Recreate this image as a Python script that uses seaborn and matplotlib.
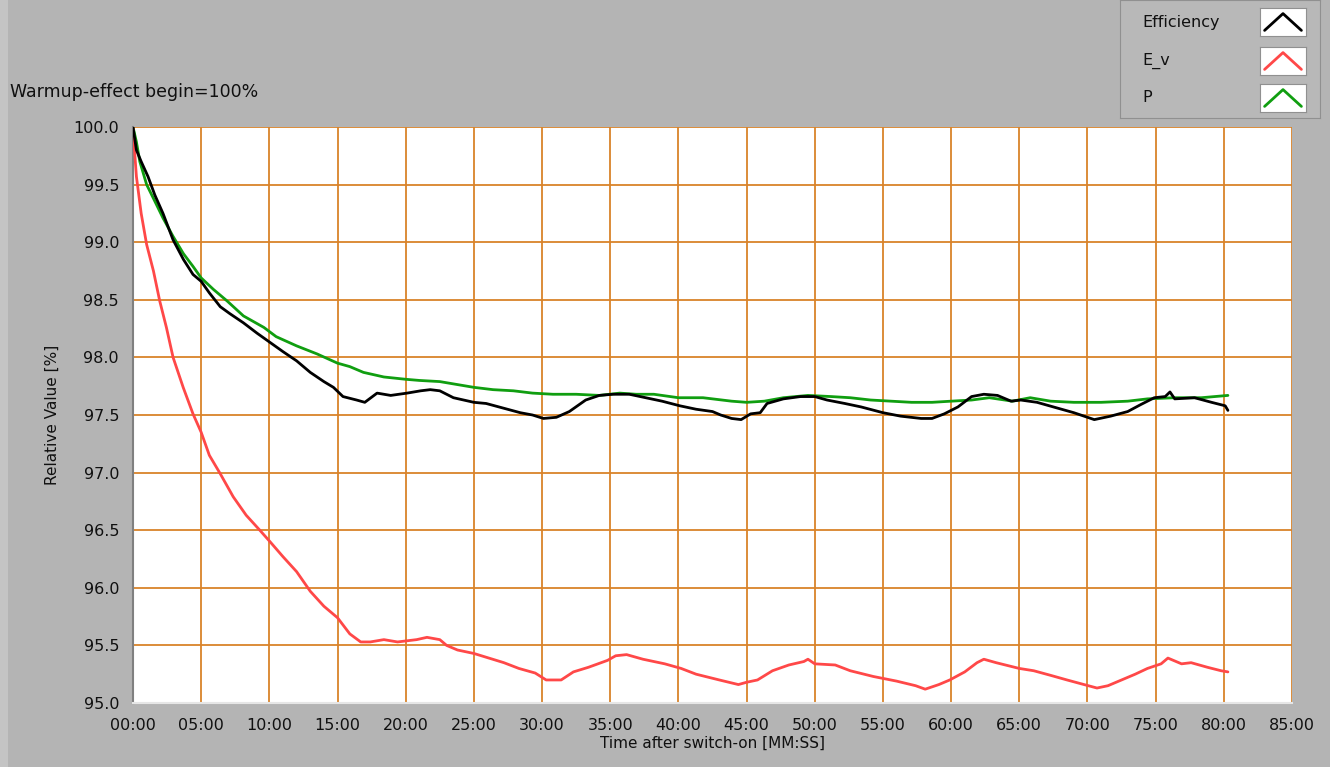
import pandas as pd
import matplotlib.pyplot as plt
import seaborn as sns

# Values (time in minutes, relative value in %)
eff_t = [0, 0.25, 0.6, 1.1, 1.6, 2.2, 2.94, 3.7, 4.4, 5.0, 5.6, 6.4, 7.1, 8.1, 9.1, 10.05,
         11.0, 12.0, 13.0, 14.0, 14.7, 15.4, 16.4, 17.0, 17.9, 18.9, 20.1, 21.1, 21.8, 22.5,
         23.5, 25.0, 25.9, 27.15, 28.4, 29.3, 30.1, 31.05, 32.0, 33.2, 34.2, 35.2, 36.4,
         37.6, 38.8, 40.1, 41.3, 42.5, 43.1, 43.9, 44.6, 45.3, 46.0, 46.5, 47.7, 48.95,
         50.0, 50.9, 52.2, 53.4, 55.0, 56.3, 57.8, 58.6, 59.5, 60.5, 61.5, 62.4, 63.4,
         64.4, 65.1, 66.3, 67.5, 69.0, 70.5, 71.7, 72.95, 73.9, 74.9, 75.7, 76.05, 76.4,
         77.85, 79.1, 80.1, 80.3]
eff_v = [100.0, 99.8, 99.7, 99.57, 99.41, 99.25, 99.02, 98.85, 98.72, 98.66, 98.56, 98.44,
         98.38, 98.3, 98.21, 98.13, 98.05, 97.97, 97.87, 97.79, 97.74, 97.66, 97.63, 97.61,
         97.69, 97.67, 97.69, 97.71, 97.72, 97.71, 97.65, 97.61, 97.6, 97.56, 97.52, 97.5,
         97.47, 97.48, 97.53, 97.63, 97.67, 97.68, 97.68, 97.65, 97.62, 97.58, 97.55, 97.53,
         97.5, 97.47, 97.46, 97.51, 97.52, 97.6, 97.64, 97.66, 97.66, 97.63, 97.6, 97.57,
         97.52, 97.49, 97.47, 97.47, 97.51, 97.57, 97.66, 97.68, 97.67, 97.62, 97.63, 97.61,
         97.57, 97.52, 97.46, 97.49, 97.53, 97.59, 97.65, 97.66, 97.7, 97.64, 97.65, 97.61,
         97.58, 97.54]

ev_t = [0, 0.05, 0.25, 0.6, 1.0, 1.5, 1.96, 2.45, 2.94, 3.68, 4.4, 5.0, 5.6, 6.4, 7.35, 8.3,
        9.3, 10.05, 11.0, 12.0, 13.0, 14.0, 15.0, 15.9, 16.7, 17.4, 18.4, 19.4, 20.8, 21.56,
        22.5, 23.0, 23.8, 25.0, 26.1, 27.2, 28.3, 29.5, 30.3, 31.4, 32.3, 33.4, 34.8, 35.4,
        36.2, 37.4, 39.0, 40.2, 41.3, 43.0, 44.4, 45.0, 45.8, 46.9, 48.1, 49.2, 49.5, 50.0,
        51.5, 52.6, 54.3, 56.0, 57.4, 58.1, 59.1, 59.9, 61.0, 61.9, 62.4, 63.3, 65.0, 66.06,
        67.3, 68.5, 69.75, 70.7, 71.5, 72.5, 73.5, 74.4, 75.4, 75.9, 76.9, 77.6, 78.8, 79.8,
        80.3]
ev_v = [100.0, 99.9, 99.57, 99.25, 98.98, 98.75, 98.49, 98.26, 98.0, 97.74, 97.51, 97.35,
        97.15, 96.99, 96.79, 96.63, 96.5, 96.4, 96.27, 96.14, 95.97, 95.84, 95.74, 95.6,
        95.53, 95.53, 95.55, 95.53, 95.55, 95.57, 95.55, 95.5, 95.46, 95.43, 95.39, 95.35,
        95.3, 95.26, 95.2, 95.2, 95.27, 95.31, 95.37, 95.41, 95.42, 95.38, 95.34, 95.3, 95.25,
        95.2, 95.16, 95.18, 95.2, 95.28, 95.33, 95.36, 95.38, 95.34, 95.33, 95.28, 95.23,
        95.19, 95.15, 95.12, 95.16, 95.2, 95.27, 95.35, 95.38, 95.35, 95.3, 95.28, 95.24,
        95.2, 95.16, 95.13, 95.15, 95.2, 95.25, 95.3, 95.34, 95.39, 95.34, 95.35, 95.31,
        95.28, 95.27]

p_t = [0, 0.25, 0.5, 1.0, 1.5, 2.2, 2.94, 3.7, 4.4, 5.0, 5.9, 6.9, 8.1, 9.6, 10.5, 12.0,
       13.5, 15.0, 15.9, 16.9, 18.4, 20.0, 21.0, 22.5, 23.5, 25.0, 26.4, 27.9, 29.3, 30.8,
       32.5, 34.2, 35.7, 36.9, 38.2, 40.0, 41.8, 43.9, 45.0, 46.3, 47.7, 49.5, 51.2, 52.6,
       54.1, 55.6, 57.1, 58.6, 60.0, 61.5, 62.8, 64.5, 65.8, 67.3, 69.0, 71.0, 72.95, 74.4,
       76.4, 78.35, 80.3]
p_v = [100.0, 99.87, 99.7, 99.5, 99.38, 99.21, 99.05, 98.9, 98.79, 98.69, 98.59, 98.49,
       98.36, 98.26, 98.18, 98.1, 98.03, 97.95, 97.92, 97.87, 97.83, 97.81, 97.8, 97.79,
       97.77, 97.74, 97.72, 97.71, 97.69, 97.68, 97.68, 97.67, 97.69, 97.68, 97.68, 97.65,
       97.65, 97.62, 97.61, 97.62, 97.65, 97.67, 97.66, 97.65, 97.63, 97.62, 97.61, 97.61,
       97.62, 97.63, 97.65, 97.62, 97.65, 97.62, 97.61, 97.61, 97.62, 97.64, 97.65, 97.65,
       97.67]

series_names = ["Efficiency", "E_v", "P"]
series_colors = ["#000000", "#ff4848", "#109e10"]
x_ticks = list(range(0, 90, 5))
x_labels = [f"{m:02d}:00" for m in x_ticks]
y_ticks = [95.0 + 0.5 * i for i in range(11)]

df = pd.concat([
    pd.DataFrame({"t": eff_t, "v": eff_v, "s": "Efficiency"}),
    pd.DataFrame({"t": ev_t, "v": ev_v, "s": "E_v"}),
    pd.DataFrame({"t": p_t, "v": p_v, "s": "P"}),
])

sns.set_style("white")
plt.rcParams['font.family'] = ['DejaVu Sans']

panel = "#b4b4b4"
grid = "#d9832a"
fig = plt.figure(figsize=(13.3, 7.67), dpi=100, facecolor=panel)

# slightly lighter strip on the far left edge, like the window frame
fig.patches.append(plt.Rectangle((0, 0), 8 / 1330, 1, transform=fig.transFigure,
                                 facecolor="#c4c4c4", edgecolor="none", zorder=0))

ax = fig.add_axes([133 / 1330, 1 - 703 / 767, (1292 - 133) / 1330, (703 - 127) / 767])
ax.set_facecolor("white")

# draw green first so black sits on top like the reference
for name in ["P", "E_v", "Efficiency"]:
    sub = df[df["s"] == name]
    sns.lineplot(data=sub, x="t", y="v", color=series_colors[series_names.index(name)],
                 lw=2, ax=ax, sort=False, estimator=None, zorder=3)

ax.set_xlim(0, 85)
ax.set_ylim(95, 100)
ax.set_xticks(x_ticks)
ax.set_xticklabels(x_labels)
ax.set_yticks(y_ticks)
ax.set_yticklabels([f"{v:.1f}" for v in y_ticks])
ax.grid(True, color=grid, lw=1.3, zorder=1)
ax.set_axisbelow(True)
for s in ax.spines.values():
    s.set_visible(False)
ax.spines["left"].set_visible(True)
ax.spines["left"].set_color("#808080")
ax.spines["left"].set_linewidth(1.5)
ax.spines["bottom"].set_visible(True)
ax.spines["bottom"].set_color("#e6e6e6")
ax.spines["bottom"].set_linewidth(1.5)
ax.tick_params(axis="both", which="both", direction="out", length=7, width=1.3,
               color="#202020", labelsize=11.5, labelcolor="#101010", pad=3)
ax.tick_params(axis="x", pad=4)
ax.set_xlabel("Time after switch-on [MM:SS]", fontsize=11, color="#101010", labelpad=2)
ax.set_ylabel("Relative Value [%]", fontsize=11, color="#101010", labelpad=10)

fig.text(10 / 1330, 1 - 92 / 767, "Warmup-effect begin=100%", fontsize=12.5,
         color="#101010", va="center", ha="left")

# legend box, top right
leg = fig.add_axes([1120 / 1330, 1 - 118 / 767, 200 / 1330, 118 / 767])
leg.set_xlim(0, 1)
leg.set_ylim(0, 1)
leg.set_facecolor("#b8b8b8")
leg.set_xticks([])
leg.set_yticks([])
for s in leg.spines.values():
    s.set_color("#909090")
row_y = [22, 61, 98]
for name, color, yy in zip(series_names, series_colors, row_y):
    fy = 1 - yy / 118
    leg.text(22 / 200, fy, name, fontsize=11.5, color="#101010", va="center", ha="left")
    box = fig.add_axes([1260 / 1330, 1 - (yy + 14) / 767, 46 / 1330, 28 / 767])
    box.set_facecolor("white")
    box.set_xticks([])
    box.set_yticks([])
    for s in box.spines.values():
        s.set_color("#909090")
    box.plot([0.1, 0.5, 0.9], [0.2, 0.8, 0.2], color=color, lw=2)
    box.set_xlim(0, 1)
    box.set_ylim(0, 1)

fig.savefig("out.png", dpi=100, facecolor=panel)
